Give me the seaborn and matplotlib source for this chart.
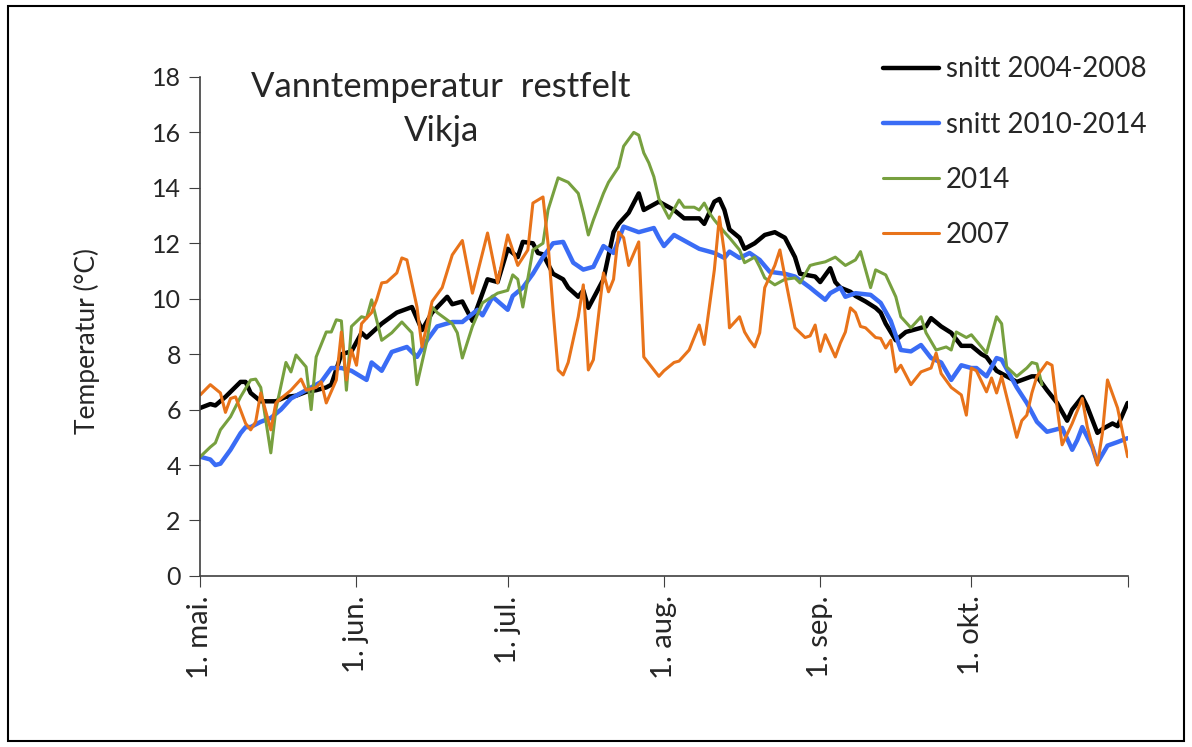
import pandas as pd
import seaborn as sns
import matplotlib.pyplot as plt
from matplotlib.patches import Rectangle

# Water temperature, days counted from 1 May
start = "2014-05-01"
month_starts = ["2014-05-01", "2014-06-01", "2014-07-01", "2014-08-01",
                "2014-09-01", "2014-10-01", "2014-11-01"]
month_labels = ["1. mai.", "1. jun.", "1. jul.", "1. aug.", "1. sep.", "1. okt.", ""]

days_avg0408 = [0, 2, 3, 5, 8, 9, 10, 12, 15, 17, 19, 21, 23, 25, 26, 28, 30, 32, 33, 36,
                39, 42, 44, 46, 49, 50, 52, 54, 57, 59, 61, 63, 64, 66, 67, 68, 70, 72, 73, 75,
                76, 77, 80, 82, 83, 85, 87, 88, 91, 94, 96, 99, 100, 102, 103, 104, 105, 107, 108, 110,
                112, 114, 116, 118, 119, 122, 123, 125, 126, 127, 129, 130, 132, 134, 135, 136, 138, 140, 142, 144,
                145, 147, 149, 151, 153, 155, 156, 158, 160, 162, 165, 166, 168, 170, 172, 173, 175, 176, 178, 179,
                181, 182, 184]
temp_avg0408 = [6.06, 6.2, 6.15, 6.46, 7.0, 7.0, 6.6, 6.3, 6.3, 6.46, 6.5, 6.64, 6.7, 6.8, 6.9, 8.0, 8.1, 8.77, 8.6, 9.1,
                9.5, 9.7, 8.87, 9.5, 10.07, 9.8, 9.9, 9.2, 10.7, 10.6, 11.8, 11.5, 12.05, 12.0, 11.65, 11.6, 10.9, 10.7, 10.4, 10.07,
                10.3, 9.67, 10.7, 12.4, 12.7, 13.1, 13.8, 13.2, 13.5, 13.2, 12.9, 12.9, 12.7, 13.5, 13.6, 13.2, 12.5, 12.2, 11.8, 12.0,
                12.3, 12.4, 12.2, 11.5, 10.9, 10.8, 10.6, 11.1, 10.6, 10.4, 10.25, 10.1, 9.9, 9.67, 9.5, 9.1, 8.5, 8.8, 8.9, 9.0,
                9.3, 9.0, 8.77, 8.3, 8.3, 8.0, 7.9, 7.4, 7.2, 7.0, 7.2, 7.2, 6.7, 6.24, 5.6, 6.0, 6.46, 6.1, 5.16, 5.3,
                5.5, 5.4, 6.24]

days_avg1014 = [0, 2, 3, 4, 6, 8, 9, 10, 12, 14, 16, 18, 20, 21, 24, 26, 28, 30, 33, 34,
                36, 38, 41, 43, 45, 47, 50, 52, 55, 56, 58, 61, 62, 64, 66, 68, 70, 72, 74, 76,
                78, 80, 82, 84, 87, 90, 91, 92, 94, 97, 99, 102, 104, 105, 107, 109, 111, 113, 116, 118,
                121, 122, 124, 125, 127, 128, 130, 133, 135, 137, 139, 141, 143, 145, 147, 149, 151, 153, 154, 156,
                158, 159, 162, 164, 166, 168, 171, 173, 174, 175, 177, 178, 180, 182, 184]
temp_avg1014 = [4.3, 4.2, 4.0, 4.05, 4.55, 5.15, 5.37, 5.37, 5.56, 5.7, 6.0, 6.4, 6.6, 6.7, 7.0, 7.5, 7.5, 7.4, 7.07, 7.7,
                7.4, 8.08, 8.26, 7.9, 8.5, 9.0, 9.16, 9.16, 9.6, 9.4, 10.07, 9.6, 10.1, 10.4, 10.9, 11.5, 12.0, 12.05, 11.3, 11.05,
                11.15, 11.9, 11.65, 12.6, 12.4, 12.55, 12.2, 11.9, 12.3, 12.0, 11.8, 11.65, 11.47, 11.7, 11.47, 11.65, 11.4, 10.97, 10.9, 10.8,
                10.4, 10.25, 9.96, 10.2, 10.4, 10.07, 10.2, 10.14, 9.85, 9.2, 8.15, 8.1, 8.33, 7.86, 7.7, 7.07, 7.6, 7.5, 7.5, 7.2,
                7.86, 7.8, 6.8, 6.24, 5.56, 5.2, 5.34, 4.55, 4.9, 5.37, 4.65, 4.08, 4.7, 4.83, 4.97]

days_2014 = [0, 2, 3, 4, 6, 8, 10, 11, 12, 14, 15, 17, 18, 19, 21, 22, 23, 25, 26, 27,
             28, 29, 30, 32, 33, 34, 36, 38, 40, 42, 43, 45, 46, 47, 50, 51, 52, 54, 56, 59,
             61, 62, 63, 64, 66, 68, 69, 71, 73, 75, 76, 77, 78, 80, 81, 83, 84, 86, 87, 88,
             89, 90, 91, 93, 95, 96, 98, 99, 100, 101, 102, 104, 105, 107, 108, 110, 111, 112, 114, 116,
             118, 119, 121, 122, 124, 126, 128, 130, 131, 133, 134, 136, 138, 139, 141, 143, 144, 146, 148, 149,
             150, 152, 153, 155, 156, 158, 159, 160, 162, 164, 165, 166, 167]
temp_2014 = [4.3, 4.65, 4.8, 5.27, 5.74, 6.46, 7.07, 7.1, 6.8, 4.44, 6.0, 7.7, 7.36, 7.97, 7.54, 6.0, 7.9, 8.8, 8.8, 9.24,
             9.2, 6.7, 9.0, 9.35, 9.3, 9.96, 8.5, 8.77, 9.16, 8.77, 6.9, 8.5, 9.7, 9.5, 9.1, 8.77, 7.86, 9.0, 9.85, 10.2,
             10.3, 10.86, 10.7, 9.7, 11.76, 12.0, 13.2, 14.36, 14.2, 13.8, 13.1, 12.3, 12.84, 13.8, 14.2, 14.75, 15.5, 16.0, 15.9, 15.26,
             14.9, 14.4, 13.6, 12.9, 13.56, 13.3, 13.3, 13.2, 13.45, 13.1, 12.84, 12.4, 12.2, 11.76, 11.3, 11.5, 11.15, 10.75, 10.5, 10.7,
             10.75, 10.57, 11.2, 11.25, 11.33, 11.5, 11.2, 11.4, 11.7, 10.4, 11.04, 10.86, 10.07, 9.35, 8.95, 9.35, 8.77, 8.15, 8.26, 8.15,
             8.8, 8.6, 8.7, 8.26, 8.04, 9.35, 9.1, 7.54, 7.2, 7.5, 7.7, 7.65, 6.9]

days_2007 = [0, 2, 4, 5, 6, 7, 9, 10, 11, 12, 14, 15, 16, 18, 20, 21, 23, 24, 25, 27,
             28, 29, 30, 31, 32, 34, 35, 36, 37, 39, 40, 41, 43, 44, 46, 48, 50, 52, 54, 57,
             59, 61, 63, 65, 66, 68, 69, 70, 71, 72, 73, 75, 76, 77, 78, 80, 81, 82, 83, 84,
             85, 87, 88, 90, 91, 92, 94, 95, 97, 99, 100, 102, 103, 104, 105, 107, 108, 109, 110, 111,
             112, 114, 115, 116, 118, 120, 121, 122, 123, 124, 126, 127, 128, 129, 130, 131, 132, 134, 135, 136,
             137, 138, 139, 141, 143, 145, 146, 147, 149, 151, 152, 153, 154, 156, 157, 158, 159, 162, 163, 164,
             165, 166, 168, 169, 170, 171, 173, 175, 176, 178, 179, 180, 182, 184]
temp_2007 = [6.53, 6.9, 6.6, 5.9, 6.4, 6.46, 5.5, 5.27, 5.56, 6.6, 5.27, 6.24, 6.4, 6.7, 7.1, 6.7, 6.8, 7.0, 6.24, 7.07,
             8.8, 7.07, 8.15, 7.6, 9.1, 9.5, 9.96, 10.57, 10.6, 10.93, 11.47, 11.4, 9.7, 8.26, 9.9, 10.4, 11.58, 12.1, 10.2, 12.37,
             10.57, 12.3, 11.2, 11.76, 13.45, 13.67, 12.0, 9.6, 7.43, 7.25, 7.7, 9.35, 10.5, 7.43, 7.8, 10.93, 10.25, 10.7, 12.4, 12.2,
             11.2, 12.05, 7.9, 7.43, 7.2, 7.4, 7.7, 7.75, 8.15, 9.05, 8.35, 11.04, 12.95, 11.65, 8.95, 9.35, 8.8, 8.5, 8.26, 8.77,
             10.4, 11.2, 11.76, 10.8, 8.95, 8.6, 8.66, 9.05, 8.1, 8.7, 7.9, 8.4, 8.8, 9.67, 9.5, 9.0, 8.95, 8.6, 8.57, 8.22,
             8.5, 7.36, 7.6, 6.9, 7.36, 7.5, 8.04, 7.3, 6.8, 6.53, 5.8, 7.5, 7.4, 6.64, 7.14, 6.6, 7.2, 5.0, 5.6, 5.8,
             6.6, 7.2, 7.7, 7.6, 6.1, 4.73, 5.5, 6.4, 5.37, 4.0, 5.16, 7.07, 6.06, 4.3]

series = [
    ("snitt 2004-2008", days_avg0408, temp_avg0408, "black", 3.2),
    ("snitt 2010-2014", days_avg1014, temp_avg1014, "#3a6cf5", 3.2),
    ("2014", days_2014, temp_2014, "#77a03f", 2.2),
    ("2007", days_2007, temp_2007, "#e8731a", 2.2),
]

sns.set_style("white")
plt.rcParams["font.family"] = ["Lato", "DejaVu Sans"]

fig = plt.figure(figsize=(11.92, 7.47), dpi=100)
ax = fig.add_axes([0.168, 0.229, 0.778, 0.668])

t0 = pd.Timestamp(start)
for name, d, v, col, lw in series:
    dates = t0 + pd.to_timedelta(d, unit="D")
    sns.lineplot(x=dates, y=v, ax=ax, color=col, linewidth=lw, label=name)

axis_col = "#404040"
ticks = pd.to_datetime(month_starts)
ax.set_xlim(ticks[0], ticks[-1])
ax.set_xticks(ticks)
ax.set_xticklabels(month_labels, rotation=90, fontsize=21)
ax.set_ylim(0, 18)
ax.set_yticks(range(0, 19, 2))
ax.tick_params(axis="y", labelsize=18, direction="out", length=8, left=True,
               color=axis_col, pad=6)
ax.tick_params(axis="x", direction="out", length=8, bottom=True, color=axis_col, pad=6)
ax.set_xlabel("")
ax.set_ylabel("Temperatur (°C)", fontsize=19)
ax.yaxis.set_label_coords(-0.108, 0.47)
for s in ["top", "right"]:
    ax.spines[s].set_visible(False)
for s in ["left", "bottom"]:
    ax.spines[s].set_color(axis_col)
    ax.spines[s].set_linewidth(1.2)

fig.text(0.37, 0.905, "Vanntemperatur  restfelt\nVikja", ha="center", va="top",
         fontsize=25, linespacing=1.45)

ax.get_legend().remove()
handles, labels = ax.get_legend_handles_labels()
fig.legend(handles, labels, loc="upper left", bbox_to_anchor=(0.72, 0.958),
           frameon=False, fontsize=20, handlelength=2.0, handletextpad=0.25,
           labelspacing=1.05)

fig.patches.append(Rectangle((0.007, 0.008), 0.986, 0.984, transform=fig.transFigure,
                             fill=False, edgecolor="black", linewidth=1.5))

fig.savefig("out.png", dpi=100)
